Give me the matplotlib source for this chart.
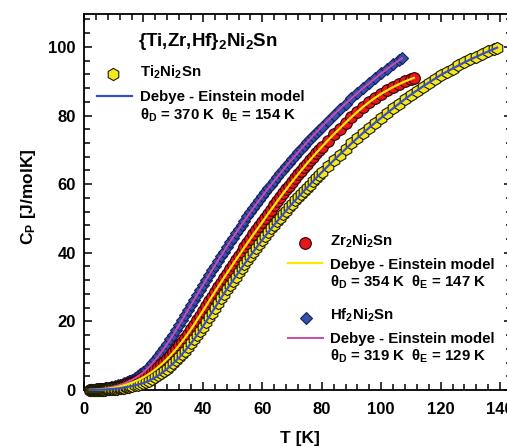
import matplotlib
matplotlib.use('Agg')
import matplotlib.pyplot as plt
from matplotlib.lines import Line2D
from matplotlib.ticker import MultipleLocator

# ---------------- data ----------------
# measurement temperatures shared by all three samples up to 80 K
temp_low = [2, 2.25, 2.5, 2.75, 3, 3.25, 3.5, 3.75, 4, 4.25, 4.5, 4.75, 5, 5.25, 5.5, 5.75,
            6, 6.25, 6.5, 6.75, 7, 7.25, 7.5, 7.75, 8,
            8.5, 9, 9.5, 10, 10.5, 11, 11.5, 12, 12.5, 13, 13.5, 14, 14.5, 15, 15.5, 16,
            17, 18, 19, 20, 21, 22, 23, 24, 25, 26, 27, 28, 29, 30, 31, 32, 33, 34, 35, 36,
            37, 38, 39, 40, 41, 42, 43, 44, 45, 46, 47, 48, 49, 50, 51, 52, 53, 54, 55, 56,
            57, 58, 59, 60, 61, 62, 63, 64, 65, 66, 67, 68, 69, 70, 71, 72, 73, 74, 75, 76,
            77, 78, 79, 80]

temp_ti = temp_low + [82, 84, 86, 88, 90, 92, 94, 96, 98, 100, 102, 104, 106, 108, 110,
                      112, 114, 116, 118, 120, 122, 124, 126, 128, 130, 132, 134, 136, 138,
                      139]
cp_ti = [0.02, 0.02, 0.02, 0.03, 0.03, 0.03, 0.04, 0.04, 0.05, 0.05, 0.06, 0.06, 0.07, 0.07,
         0.08, 0.09, 0.10, 0.11, 0.12, 0.13, 0.14, 0.15, 0.16, 0.17, 0.19,
         0.22, 0.25, 0.29, 0.33, 0.37, 0.42, 0.47, 0.52, 0.58, 0.64, 0.71, 0.78, 0.86, 0.94,
         1.03, 1.12,
         1.32, 1.54, 1.77, 2.02, 2.35, 2.75, 3.2, 3.7, 4.25, 4.85, 5.5, 6.2, 6.95, 7.75, 8.6,
         9.5, 10.45, 11.45, 12.5, 13.6, 14.75, 15.95, 17.2, 18.5,
         19.85, 21.2, 22.55, 23.95, 25.3, 26.7, 28.0, 29.3, 30.55, 31.8, 33.05, 34.3, 35.5,
         36.75, 37.95, 39.15, 40.3, 41.5, 42.65, 43.8, 44.9, 46.0, 47.1, 48.15, 49.2, 50.25,
         51.3, 52.3, 53.3, 54.3, 55.25, 56.15, 57.1, 58.0, 58.95, 59.85, 60.8, 61.7, 62.6,
         63.5,
         65.2, 66.9, 68.6, 70.25, 71.9, 73.45, 75.0, 76.5, 77.95, 79.35, 80.75, 82.13, 83.48,
         84.8, 86.1, 87.3, 88.45, 89.6, 90.7, 91.8, 92.75, 93.7, 94.6, 95.5, 96.35, 97.15,
         97.95, 98.7, 99.45, 99.8]

temp_zr = temp_low + [82, 84, 86, 88, 90, 92, 94, 96, 98, 100, 102, 104, 106, 108, 110, 111]
cp_zr = [0.03, 0.035, 0.04, 0.045, 0.05, 0.055, 0.06, 0.07, 0.08, 0.09, 0.10, 0.11, 0.12,
         0.13, 0.15, 0.16, 0.18, 0.19, 0.21, 0.23, 0.25, 0.27, 0.30, 0.32, 0.35,
         0.41, 0.47, 0.54, 0.62, 0.71, 0.8, 0.9, 1.0, 1.11, 1.23, 1.36, 1.49, 1.63, 1.78,
         1.94, 2.1,
         2.45, 2.83, 3.25, 3.7, 4.2, 4.75, 5.35, 6.0, 6.7, 7.45, 8.25, 9.1, 10.0, 10.95,
         11.95, 13.0, 14.1, 15.25, 16.45, 17.7, 19.0, 20.35, 21.7, 23.05,
         24.4, 25.8, 27.2, 28.55, 29.9, 31.25, 32.6, 33.9, 35.2, 36.5, 37.8, 39.05, 40.3,
         41.6, 42.85, 44.1, 45.35, 46.55, 47.75, 48.95, 50.2, 51.4, 52.6, 53.8, 55.0, 56.15,
         57.3, 58.45, 59.6, 60.7, 61.8, 62.85, 63.9, 64.95, 66.0, 67.0, 68.0, 68.95, 69.9,
         70.85,
         72.7, 74.5, 76.2, 77.9, 79.55, 81.1, 82.6, 83.95, 85.2, 86.35, 87.35, 88.3, 89.15,
         89.95, 90.65, 91.0]

temp_hf = temp_low + [82, 84, 86, 88, 90, 92, 94, 96, 98, 100, 102, 104, 106, 107]
cp_hf = [0.05, 0.06, 0.07, 0.08, 0.09, 0.10, 0.12, 0.13, 0.15, 0.17, 0.19, 0.21, 0.23,
         0.25, 0.28, 0.30, 0.33, 0.36, 0.39, 0.42, 0.45, 0.48, 0.52, 0.56, 0.60,
         0.68, 0.77, 0.87, 0.97, 1.08, 1.2, 1.33, 1.46, 1.6, 1.76, 1.92, 2.1, 2.28, 2.48,
         2.68, 2.9,
         3.4, 3.95, 4.55, 5.2, 5.95, 6.8, 7.75, 8.8, 9.9, 11.05, 12.25, 13.5, 14.8, 16.15,
         17.55, 19.0, 20.45, 21.9, 23.35, 24.8, 26.25, 27.7, 29.15, 30.6,
         32.05, 33.45, 34.85, 36.25, 37.65, 39.0, 40.35, 41.7, 43.05, 44.35, 45.65, 46.9,
         48.15, 49.4, 50.65, 51.85, 53.05, 54.25, 55.4, 56.55, 57.7, 58.8, 59.9, 61.0, 62.1,
         63.15, 64.2, 65.25, 66.3, 67.3, 68.3, 69.3, 70.3, 71.25, 72.2, 73.15, 74.1, 75.0,
         75.9, 76.8,
         78.55, 80.25, 81.9, 83.5, 85.05, 86.6, 88.1, 89.5, 90.9, 92.3, 93.6, 94.9, 96.1,
         96.7]

x_ticks = [0, 20, 40, 60, 80, 100, 120, 140]
y_ticks = [0, 20, 40, 60, 80, 100]

title_text = '{Ti,Zr,Hf}$_2$Ni$_2$Sn'
names = ['Ti$_2$Ni$_2$Sn', 'Zr$_2$Ni$_2$Sn', 'Hf$_2$Ni$_2$Sn']
model_text = 'Debye - Einstein model'
theta_texts = ['θ$_D$ = 370 K  θ$_E$ = 154 K',
               'θ$_D$ = 354 K  θ$_E$ = 147 K',
               'θ$_D$ = 319 K  θ$_E$ = 129 K']

# ---------------- style ----------------
plt.rcParams['font.family'] = ['Liberation Sans', 'DejaVu Sans']
plt.rcParams['font.weight'] = 'bold'
plt.rcParams['mathtext.default'] = 'regular'

W, H = 507, 447
fig = plt.figure(figsize=(W / 100, H / 100), dpi=100)
ax = fig.add_axes([84 / W, 57 / H, 428 / W, 376 / H])

def fp(x, y):
    return (x / W, 1 - y / H)

c_yel = '#f4e81c'
c_red = '#e8161b'
c_blu = '#3450a8'
c_line_ti = '#3b4fc4'
c_line_zr = '#f7ea00'
c_line_hf = '#d048b0'

mk_hf = dict(ls='none', marker='D', ms=6.6, mfc=c_blu, mec='#16215a', mew=0.8)
mk_zr = dict(ls='none', marker='o', ms=8.4, mfc=c_red, mec='#300000', mew=0.8)
mk_ti = dict(ls='none', marker='h', ms=8.8, mfc=c_yel, mec='#1a1a00', mew=0.8)

ax.plot(temp_hf, cp_hf, clip_on=False, zorder=3, **mk_hf)
ax.plot(temp_zr, cp_zr, clip_on=False, zorder=3, **mk_zr)
ax.plot(temp_ti, cp_ti, clip_on=False, zorder=3, **mk_ti)

ax.plot(temp_hf, cp_hf, color=c_line_hf, lw=1.4, clip_on=False, zorder=4)
ax.plot(temp_zr, cp_zr, color=c_line_zr, lw=1.6, clip_on=False, zorder=4)
ax.plot(temp_ti, cp_ti, color=c_line_ti, lw=1.6, clip_on=False, zorder=4)

ax.set_xlim(0, 144)
ax.set_ylim(0, 109.6)
ax.set_xticks(x_ticks)
ax.set_yticks(y_ticks)
ax.xaxis.set_minor_locator(MultipleLocator(4))
ax.yaxis.set_minor_locator(MultipleLocator(4))
ax.tick_params(which='both', direction='in', top=True, right=True, width=1.1)
ax.tick_params(which='major', length=6, labelsize=12)
ax.tick_params(axis='x', which='major', pad=9)
ax.tick_params(axis='y', which='major', pad=6)
ax.tick_params(which='minor', length=4)
for lab in ax.get_xticklabels() + ax.get_yticklabels():
    lab.set_fontweight('bold')
for sp in ax.spines.values():
    sp.set_linewidth(1.3)

fig.text(*fp(300, 438), 'T [K]', fontsize=12.5, ha='center', va='center')
fig.text(*fp(28, 197), 'C$_P$ [J/molK]', fontsize=12.5, ha='center', va='center',
         rotation=90)

# ---------------- legend-like annotations ----------------
fig.text(*fp(138, 46), title_text, fontsize=13.5, va='baseline')

# Ti block
fig.add_artist(Line2D([fp(113, 74)[0]], [fp(113, 74)[1]], transform=fig.transFigure, **mk_ti))
fig.text(*fp(140, 77), names[0], fontsize=10.8, va='baseline')
fig.add_artist(Line2D([fp(97, 96)[0], fp(132, 96)[0]], [fp(97, 96)[1]] * 2,
                      transform=fig.transFigure, color=c_line_ti, lw=1.6))
fig.text(*fp(140, 101), model_text, fontsize=10.8, va='baseline')
fig.text(*fp(140, 119.5), theta_texts[0], fontsize=10.8, va='baseline')

# Zr block
fig.add_artist(Line2D([fp(305, 243)[0]], [fp(305, 243)[1]], transform=fig.transFigure, **mk_zr))
fig.text(*fp(330, 246), names[1], fontsize=10.8, va='baseline')
fig.add_artist(Line2D([fp(288, 263)[0], fp(322, 263)[0]], [fp(288, 263)[1]] * 2,
                      transform=fig.transFigure, color=c_line_zr, lw=1.6))
fig.text(*fp(330, 268.5), model_text, fontsize=10.8, va='baseline')
fig.text(*fp(330, 287), theta_texts[1], fontsize=10.8, va='baseline')

# Hf block
fig.add_artist(Line2D([fp(306, 318)[0]], [fp(306, 318)[1]], transform=fig.transFigure, **mk_hf))
fig.text(*fp(330, 320), names[2], fontsize=10.8, va='baseline')
fig.add_artist(Line2D([fp(288, 338)[0], fp(323, 338)[0]], [fp(288, 338)[1]] * 2,
                      transform=fig.transFigure, color=c_line_hf, lw=1.4))
fig.text(*fp(330, 343.5), model_text, fontsize=10.8, va='baseline')
fig.text(*fp(330, 360.5), theta_texts[2], fontsize=10.8, va='baseline')

fig.savefig('out.png', dpi=100)
